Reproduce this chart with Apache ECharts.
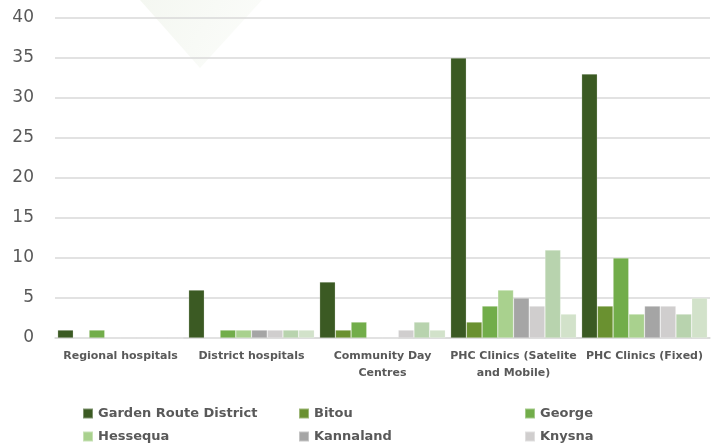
<!DOCTYPE html>
<html>
<head>
<meta charset="utf-8">
<script src="https://cdn.jsdelivr.net/npm/echarts@6/dist/echarts.min.js"></script>
<style>
  html, body { margin: 0; padding: 0; background: #ffffff; }
  #chart { width: 716px; height: 447px; }
</style>
</head>
<body>
<div id="chart"></div>
<script>
// Health facilities per sub-district, Garden Route
const categories = [
  'Regional hospitals',
  'District hospitals',
  'Community Day\nCentres',
  'PHC Clinics (Satelite\nand Mobile)',
  'PHC Clinics (Fixed)'
];

const seriesNames = [
  'Garden Route District', 'Bitou', 'George', 'Hessequa',
  'Kannaland', 'Knysna', 'Mossel Bay', 'Oudtshoorn'
];

const gardenRoute = [1, 6, 7, 35, 33];
const bitou       = [0, 0, 1, 2, 4];
const george      = [1, 1, 2, 4, 10];
const hessequa    = [0, 1, 0, 6, 3];
const kannaland   = [0, 1, 0, 5, 4];
const knysna      = [0, 1, 1, 4, 4];
const mosselBay   = [0, 1, 2, 11, 3];
const oudtshoorn  = [0, 1, 1, 3, 5];

const yTicks = [0, 5, 10, 15, 20, 25, 30, 35, 40];

const seriesValues = [gardenRoute, bitou, george, hessequa, kannaland, knysna, mosselBay, oudtshoorn];
const colors = ['#3B5A23', '#6A9130', '#72AD4A', '#A9D18E', '#A5A5A5', '#D0CECE', '#B8D3AE', '#D2E2CA'];

const chart = echarts.init(document.getElementById('chart'), null, { renderer: 'canvas' });

const legendText = { fontFamily: 'DejaVu Sans', fontWeight: 'bold', fontSize: 13, color: '#595959' };
// One vertical legend per column; the tall box keeps each column from wrapping
function legendColumn(names, left) {
  return {
    orient: 'vertical', left: left, top: 407, width: 220, height: 120,
    padding: 0,
    itemWidth: 10, itemHeight: 10, itemGap: 10,
    icon: 'rect', textStyle: legendText,
    data: names, selectedMode: false
  };
}

chart.setOption({
  animation: false,
  color: colors,
  graphic: [{
    type: 'polygon', z: -10, silent: true,
    shape: { points: [[140, 0], [262, 0], [200, 68]] },
    style: {
      fill: new echarts.graphic.LinearGradient(0, 0, 1, 1, [
        { offset: 0, color: '#F4F7F1' },
        { offset: 1, color: '#FCFDFB' }
      ])
    }
  }],
  legend: [
    legendColumn([seriesNames[0], seriesNames[3], seriesNames[6]], 82),
    legendColumn([seriesNames[1], seriesNames[4], seriesNames[7]], 298),
    legendColumn([seriesNames[2], seriesNames[5]], 524)
  ],
  grid: { left: 55, right: 6, top: 18, bottom: 109, containLabel: false },
  xAxis: {
    type: 'category',
    data: categories,
    axisLine: { show: true, lineStyle: { color: '#D9D9D9', width: 1.5 } },
    axisTick: { show: false },
    axisLabel: {
      interval: 0, margin: 10, lineHeight: 17,
      fontFamily: 'DejaVu Sans', fontWeight: 'bold', fontSize: 11, color: '#595959'
    }
  },
  yAxis: {
    type: 'value',
    min: yTicks[0], max: yTicks[yTicks.length - 1], interval: 5,
    axisLine: { show: false },
    axisTick: { show: false },
    splitLine: { lineStyle: { color: '#D9D9D9', width: 1.5 } },
    axisLabel: {
      margin: 21, fontFamily: 'DejaVu Sans', fontSize: 17, color: '#595959'
    }
  },
  series: seriesNames.map((name, i) => ({
    name: name,
    type: 'bar',
    data: seriesValues[i],
    barGap: '0%',
    barCategoryGap: '4%',
    itemStyle: { color: colors[i], borderColor: 'rgba(255,255,255,0.35)', borderWidth: 0.6 }
  }))
});
</script>
</body>
</html>
